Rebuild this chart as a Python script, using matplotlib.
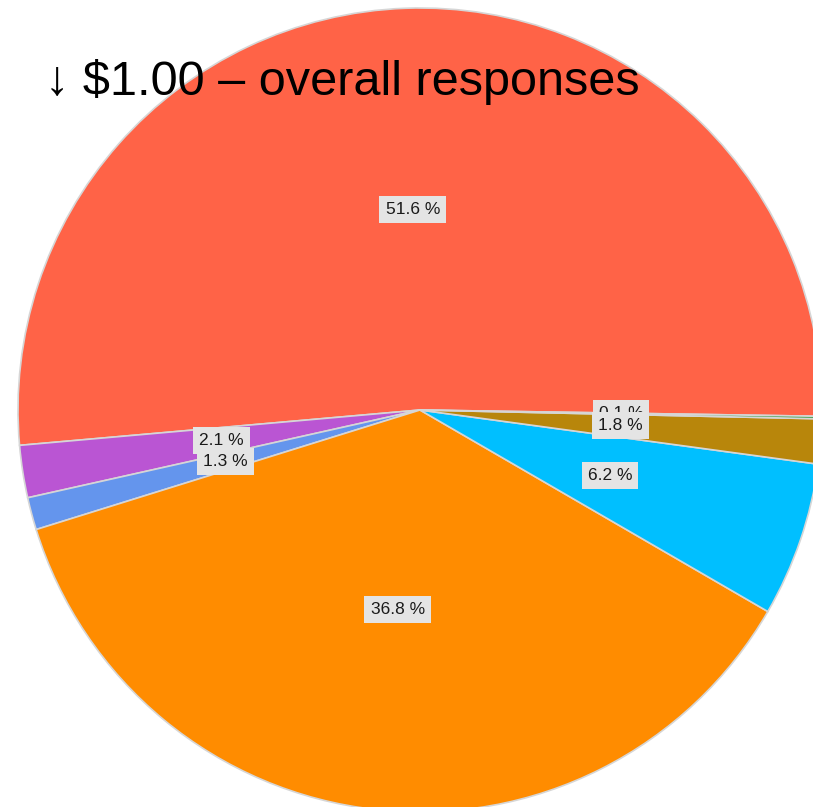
import matplotlib.pyplot as plt

# slices in counter-clockwise order, starting just below 3 o'clock
labels = ["51.6 %", "2.1 %", "1.3 %", "36.8 %", "6.2 %", "1.8 %", "0.1 %"]
values = [51.6, 2.1, 1.3, 36.8, 6.2, 1.8, 0.1]
colors = ["#FF6347", "#BA55D3", "#6495ED", "#FF8C00",
          "#00BFFF", "#B8860B", "#2E9B3A"]
title = "\u2193 $1.00 \u2013 overall responses"

fig = plt.figure(figsize=(8.13, 8.07), dpi=100)
ax = fig.add_axes([0, 0, 1, 1])
wedges, texts, autotexts = ax.pie(values,
                                  colors=colors,
                                  startangle=-0.9,
                                  counterclock=True,
                                  radius=1.0,
                                  autopct="%1.1f",
                                  pctdistance=0.5,
                                  wedgeprops=dict(edgecolor="#d6d6d6",
                                                  linewidth=1.2))
for txt, lab in zip(autotexts, labels):
    txt.set_text(lab)
    txt.set_fontfamily(["Liberation Sans", "DejaVu Sans"])
    txt.set_fontsize(12.5)
    txt.set_color("#1a1a1a")
    txt.set_bbox(dict(boxstyle="square,pad=0.35",
                      facecolor="#e4e4e4",
                      edgecolor="none"))
# the 1.8 % box sits over the 0.1 % one
autotexts[5].set_zorder(6)
autotexts[6].set_zorder(5)

r_px = 402
ax.set_xlim(-420 / r_px, (813 - 420) / r_px)
ax.set_ylim(-(807 - 410) / r_px, 410 / r_px)
ax.axis("off")

fig.text(45 / 813, 1 - 95 / 807, title,
         fontsize=35,
         family=["Liberation Sans Narrow", "Liberation Sans", "DejaVu Sans"],
         ha="left", va="baseline")

plt.savefig("out.png", dpi=100)
